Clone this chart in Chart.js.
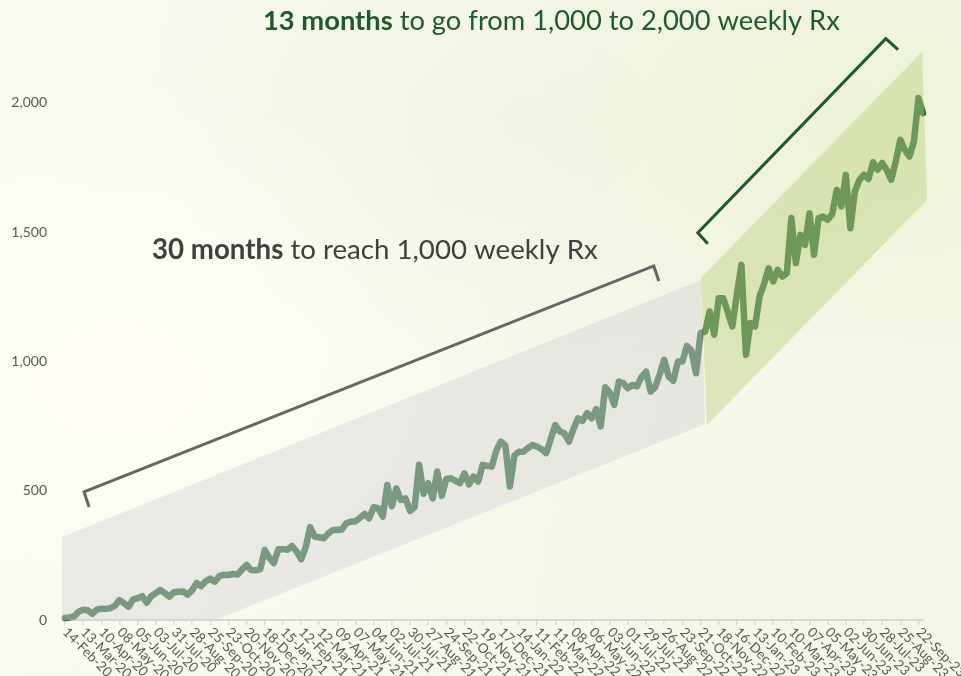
<!doctype html>
<html lang="en">
<head>
<meta charset="utf-8">
<title>Weekly Rx</title>
<script src="https://cdn.jsdelivr.net/npm/chart.js"></script>
<style>
  html, body { margin: 0; padding: 0; }
  body {
    width: 961px; height: 676px; overflow: hidden;
    background:
      radial-gradient(ellipse 420px 300px at 120px 380px, rgba(255,255,246,0.9), rgba(255,255,246,0) 100%),
      radial-gradient(ellipse 380px 260px at 860px 120px, rgba(236,242,214,0.9), rgba(236,242,214,0) 100%),
      radial-gradient(ellipse 360px 260px at 520px 120px, rgba(240,243,226,0.8), rgba(240,243,226,0) 100%),
      linear-gradient(100deg, #fafbf0 0%, #f7f8ec 55%, #f4f7e6 100%);
  }
  #wrap { position: relative; width: 961px; height: 676px; }
</style>
</head>
<body>
<div id="wrap"><canvas id="rxChart" width="961" height="676"></canvas></div>
<script>
// tick labels, one every 4 weeks
var tickLabels = ['14-Feb-20','13-Mar-20','10-Apr-20','08-May-20','05-Jun-20','03-Jul-20','31-Jul-20','28-Aug-20',
  '25-Sep-20','23-Oct-20','20-Nov-20','18-Dec-20','15-Jan-21','12-Feb-21','12-Mar-21','09-Apr-21','07-May-21',
  '04-Jun-21','02-Jul-21','30-Jul-21','27-Aug-21','24-Sep-21','22-Oct-21','19-Nov-21','17-Dec-21','14-Jan-22',
  '11-Feb-22','11-Mar-22','08-Apr-22','06-May-22','03-Jun-22','01-Jul-22','29-Jul-22','26-Aug-22','23-Sep-22',
  '21-Oct-22','18-Nov-22','16-Dec-22','13-Jan-23','10-Feb-23','10-Mar-23','07-Apr-23','05-May-23','02-Jun-23',
  '30-Jun-23','28-Jul-23','25-Aug-23','22-Sep-23'];

var yTicks = [0, 500, 1000, 1500, 2000];
var yTickLabels = ['0', '500', '1,000', '1,500', '2,000'];

// weekly Rx
var weeklyRx = [
  8, 10, 14, 32, 40, 38, 24, 40, 44, 43,
  46, 55, 77, 65, 51, 80, 84, 92, 67, 92,
  104, 116, 104, 90, 107, 109, 110, 98, 115, 143,
  131, 150, 160, 148, 170, 175, 174, 178, 176, 195,
  213, 193, 192, 196, 271, 240, 220, 274, 274, 272,
  286, 265, 235, 280, 359, 322, 320, 316, 335, 348,
  348, 350, 375, 380, 382, 395, 410, 393, 436, 432,
  400, 522, 440, 509, 464, 470, 422, 436, 600, 488,
  529, 470, 574, 480, 545, 548, 538, 529, 567, 524,
  555, 535, 600, 596, 593, 655, 690, 675, 516, 636,
  651, 651, 665, 677, 670, 660, 645, 700, 754, 729,
  722, 690, 738, 780, 770, 800, 780, 815, 748, 900,
  880, 832, 922, 915, 896, 909, 903, 940, 960, 883,
  900, 950, 1006, 940, 925, 999, 999, 1060, 1040, 954,
  1109, 1115, 1193, 1103, 1244, 1244, 1190, 1135, 1260, 1373,
  1025, 1148, 1135, 1251, 1300, 1360, 1309, 1354, 1328, 1341,
  1554, 1380, 1489, 1450, 1573, 1412, 1554, 1560, 1547, 1570,
  1663, 1599, 1721, 1515, 1657, 1702, 1722, 1705, 1770, 1741,
  1767, 1740, 1702, 1773, 1857, 1818, 1792, 1850, 2018, 1960
];

var weeks = weeklyRx.map(function (v, i) { return i % 4 === 0 ? tickLabels[i / 4] : ''; });

// shaded bands and brackets, as [week index, Rx]
var grayBand = [[-0.66, 321], [140.1, 1315], [141.0, 758], [33.0, 0], [-0.66, 0]];
var greenBand = [[140.1, 1323], [188.8, 2197], [189.9, 1625], [141.4, 754]];
var grayBracket = [[5.3, 437], [4.2, 495], [129.7, 1369], [130.8, 1311]];
var greenBracket = [[141.6, 1455], [139.4, 1497], [180.8, 2248], [183.5, 2205]];

var FONT = 'Lato, "Open Sans", sans-serif';

function toPx(chart, p) {
  return [chart.scales.x.getPixelForValue(p[0]), chart.scales.y.getPixelForValue(p[1])];
}

function pathOf(chart, pts) {
  var ctx = chart.ctx;
  ctx.beginPath();
  pts.forEach(function (p, i) {
    var q = toPx(chart, p);
    if (i === 0) ctx.moveTo(q[0], q[1]); else ctx.lineTo(q[0], q[1]);
  });
}

// bold + regular run of text, sized to fit a width
function richText(ctx, parts, x, y, targetW, color) {
  var base = 24, w = 0;
  parts.forEach(function (p) {
    ctx.font = (p.bold ? 'bold ' : '') + base + 'px ' + FONT;
    w += ctx.measureText(p.t).width;
  });
  var size = base * targetW / w;
  ctx.fillStyle = color;
  ctx.textAlign = 'left';
  ctx.textBaseline = 'alphabetic';
  parts.forEach(function (p) {
    ctx.font = (p.bold ? 'bold ' : '') + size.toFixed(2) + 'px ' + FONT;
    ctx.fillText(p.t, x, y);
    x += ctx.measureText(p.t).width;
  });
}

var overlayPlugin = {
  id: 'overlay',
  afterDatasetsDraw: function (chart) {
    var ctx = chart.ctx;
    ctx.save();
    pathOf(chart, grayBand);
    ctx.closePath();
    ctx.fillStyle = 'rgba(212,211,214,0.45)';
    ctx.fill();
    pathOf(chart, greenBand);
    ctx.closePath();
    ctx.fillStyle = 'rgba(188,209,129,0.45)';
    ctx.fill();
    ctx.restore();
  },
  afterDraw: function (chart) {
    var ctx = chart.ctx;
    var x = chart.scales.x;
    ctx.save();
    // rotated date labels
    ctx.font = '13.5px ' + FONT;
    ctx.fillStyle = '#595959';
    ctx.textAlign = 'left';
    ctx.textBaseline = 'middle';
    x.ticks.forEach(function (t) {
      var px = x.getPixelForValue(t.value);
      ctx.save();
      ctx.translate(px, chart.chartArea.bottom + 10);
      ctx.rotate(Math.PI / 4);
      ctx.fillText(tickLabels[t.value / 4], 0, 0);
      ctx.restore();
    });
    // brackets
    ctx.lineWidth = 3;
    ctx.lineJoin = 'miter';
    ctx.strokeStyle = '#666666';
    pathOf(chart, grayBracket);
    ctx.stroke();
    ctx.strokeStyle = '#1b5a2b';
    pathOf(chart, greenBracket);
    ctx.stroke();
    // callouts
    richText(ctx, [{ t: '13 months', bold: true }, { t: ' to go from 1,000 to 2,000 weekly Rx' }], 263, 30, 577, '#1e5b2c');
    richText(ctx, [{ t: '30 months', bold: true }, { t: ' to reach 1,000 weekly Rx' }], 152, 259, 446, '#404040');
    ctx.restore();
  }
};

var ctx = document.getElementById('rxChart').getContext('2d');
var rxChart = new Chart(ctx, {
  type: 'line',
  data: {
    labels: weeks,
    datasets: [{
      label: 'Weekly Rx',
      data: weeklyRx,
      borderColor: '#2e6b3a',
      borderWidth: 6.5,
      borderJoinStyle: 'round',
      borderCapStyle: 'round',
      pointRadius: 0,
      tension: 0,
      fill: false,
      clip: false
    }]
  },
  options: {
    responsive: false,
    animation: false,
    layout: { padding: { top: 51, right: 38, left: 0, bottom: 0 } },
    plugins: { legend: { display: false }, tooltip: { enabled: false } },
    scales: {
      x: {
        type: 'category',
        offset: false,
        grid: { display: true, drawOnChartArea: false, drawTicks: true, tickLength: 5, color: '#d9d9d9', lineWidth: 1.5 },
        border: { display: true, color: '#d9d9d9', width: 2 },
        ticks: { display: false, autoSkip: false },
        afterBuildTicks: function (s) {
          s.ticks = s.ticks.filter(function (t) { return t.value % 4 === 0; });
        },
        afterFit: function (s) { s.height = 56; }
      },
      y: {
        type: 'linear',
        min: 0,
        max: 2200,
        grid: { display: false, drawTicks: false },
        border: { display: false },
        ticks: {
          autoSkip: false,
          padding: 18,
          color: '#595959',
          font: { family: FONT, size: 14 },
          callback: function (v, i) { return yTickLabels[i]; }
        },
        afterBuildTicks: function (s) {
          s.ticks = yTicks.map(function (v) { return { value: v }; });
        },
        afterFit: function (s) { s.width = 65; }
      }
    }
  },
  plugins: [overlayPlugin]
});
</script>
</body>
</html>
